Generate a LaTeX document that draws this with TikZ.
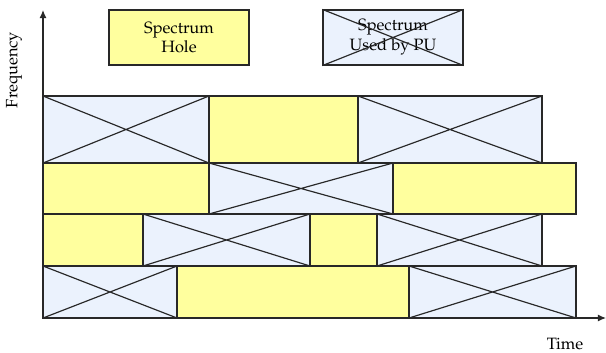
\documentclass[tikz,border=0pt]{standalone}
\usepackage[T1]{fontenc}
\usepackage{mathpazo}
\usepackage{tikz}
\usetikzlibrary{arrows.meta}
\definecolor{H}{RGB}{255,255,158}
\definecolor{P}{RGB}{235,242,253}
\definecolor{E}{RGB}{40,40,40}
\newcommand{\holeblock}[4]{\draw[hole] (#1,#3) rectangle (#2,#4);}
\newcommand{\pucell}[4]{
    \draw[pu] (#1,#3) rectangle (#2,#4);
    \draw[edge] (#1,#3)--(#2,#4) (#1,#4)--(#2,#3);
}
\tikzset{
    edge/.style={draw=E, line width=1pt},
    hole/.style={edge, fill=H},
    pu/.style={edge, fill=P},
    legend/.style={minimum width=140*0.03cm, minimum height=55*0.03cm, inner sep=0pt, align=center, font=\fontsize{14}{17}\selectfont},
}

\begin{document}
\begin{tikzpicture}[x=0.03cm, y=0.03cm]
\useasboundingbox (-43,-34) rectangle (563,318);
% row 4 (bottom)
\pucell{0}{134}{0}{52}\holeblock{134}{366}{0}{52}\pucell{366}{533}{0}{52}
% row 3
\holeblock{0}{100}{52}{104}\pucell{100}{267}{52}{104}\holeblock{267}{334}{52}{104}\pucell{334}{499}{52}{104}
% row 2
\holeblock{0}{166}{104}{155}\pucell{166}{350}{104}{155}\holeblock{350}{533}{104}{155}
% row 1 (top)
\pucell{0}{166}{155}{222}\holeblock{166}{315}{155}{222}\pucell{315}{499}{155}{222}
% axes
\draw[edge, -{Latex[length=7pt, width=6pt]}] (0,0) -- (0,308);
\draw[edge, -{Latex[length=7pt, width=6pt]}] (0,0) -- (563,0);
\node[rotate=90, font=\fontsize{14}{17}\selectfont] (freq) at (-29,248) {Frequency};
\node[anchor=base, inner sep=0pt, font=\fontsize{14}{17}\selectfont] (time) at (522,-31) {Time};
% legend
\node[legend, hole] (holekey) at (136,280.5) {Spectrum\\Hole};
\node[legend, pu] (pukey) at (350,280.5) {Spectrum\\Used by PU};
\draw[edge] (pukey.north west) -- (pukey.south east) (pukey.south west) -- (pukey.north east);
\end{tikzpicture}
\end{document}
